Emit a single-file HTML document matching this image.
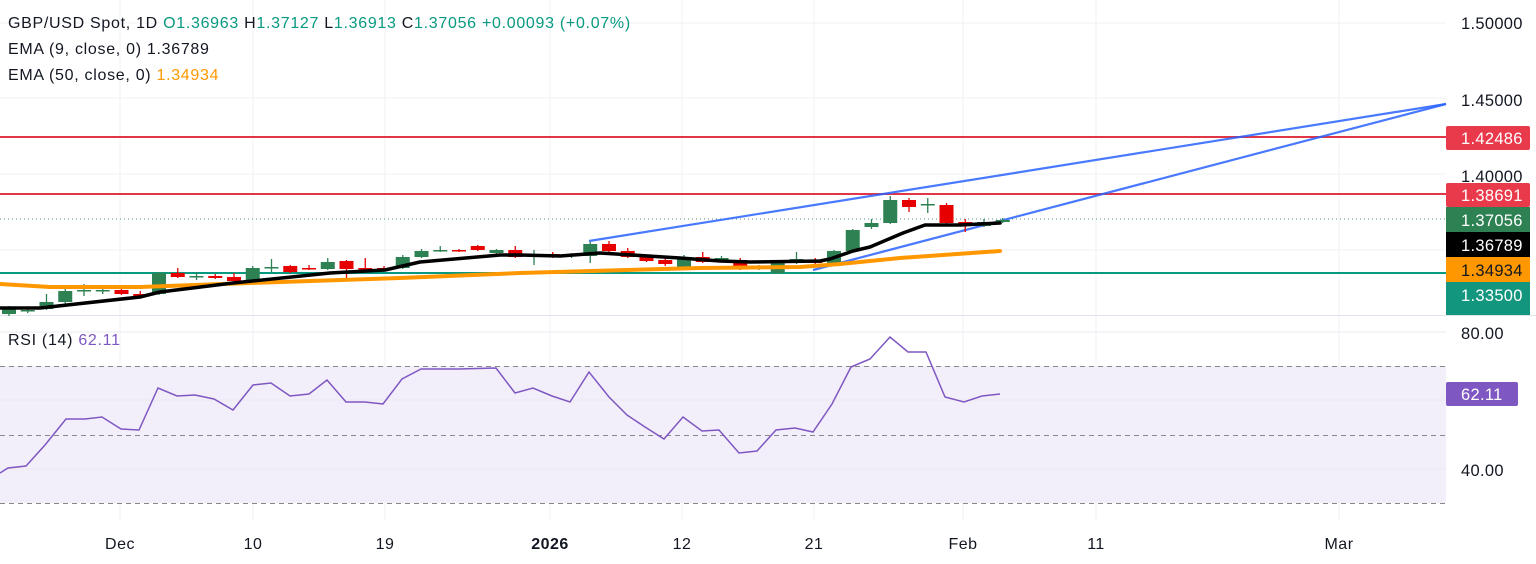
<!DOCTYPE html>
<html><head><meta charset="utf-8"><style>
html,body{margin:0;padding:0;background:#fff;width:1536px;height:564px;overflow:hidden;font-family:"Liberation Sans",sans-serif}
svg{display:block}
</style></head><body>
<svg id="c" width="1536" height="564" xmlns="http://www.w3.org/2000/svg" font-family="Liberation Sans, sans-serif">
<rect width="1536" height="564" fill="#fff"/>
<g stroke="#f0f2f5" stroke-width="1">
<line x1="120" y1="0" x2="120" y2="520"/><line x1="253" y1="0" x2="253" y2="520"/><line x1="385" y1="0" x2="385" y2="520"/><line x1="550" y1="0" x2="550" y2="520"/><line x1="682" y1="0" x2="682" y2="520"/><line x1="814" y1="0" x2="814" y2="520"/><line x1="963" y1="0" x2="963" y2="520"/><line x1="1096" y1="0" x2="1096" y2="520"/><line x1="1339" y1="0" x2="1339" y2="520"/>
<line x1="0" y1="23" x2="1446" y2="23"/><line x1="0" y1="98" x2="1446" y2="98"/><line x1="0" y1="174" x2="1446" y2="174"/><line x1="0" y1="250" x2="1446" y2="250"/>
</g>
<line x1="0" y1="315.5" x2="1536" y2="315.5" stroke="#e0e3eb"/>
<rect x="0" y="366" width="1446" height="137" fill="#f3effa"/>
<g stroke="#ebe8f0"><line x1="0" y1="332" x2="1446" y2="332"/><line x1="0" y1="400" x2="1446" y2="400"/><line x1="0" y1="469" x2="1446" y2="469"/></g>
<g stroke="#888" stroke-dasharray="5,4"><line x1="0" y1="366.5" x2="1446" y2="366.5"/><line x1="0" y1="435.5" x2="1446" y2="435.5"/><line x1="0" y1="503.5" x2="1446" y2="503.5"/></g>
<polyline fill="none" stroke="#7e57c2" stroke-width="1.5" points="0,473 8,468 26,466 45,445 66,419 85,419 102,417 121,429 139,430 158,388 177,396 195,395 214,399 233,410 253,385 271,383 290,396 309,394 327,380 346,402 365,402 383,404 402,379 421,369 459,369 496,368 515,393 533,388 552,396 570,402 589,372 609,397 627,415 645,427 664,439 683,417 702,431 719,430 739,453 757,451 776,430 795,428 813,432 832,404 851,367 870,359 890,337 908,352 926,352 945,397 964,402 982,396 1000,394"/>
<line x1="0" y1="137" x2="1446" y2="137" stroke="#e03645" stroke-width="2"/>
<line x1="0" y1="194" x2="1446" y2="194" stroke="#e03645" stroke-width="2"/>
<line x1="0" y1="219" x2="1446" y2="219" stroke="#4f8f7f" stroke-dasharray="1,3"/>
<line x1="0" y1="273" x2="1446" y2="273" stroke="#089981" stroke-width="2"/>
<line x1="589" y1="241" x2="1446" y2="104" stroke="#2962ff" stroke-width="2.2" opacity=".85"/>
<line x1="813" y1="270" x2="1446" y2="104" stroke="#2962ff" stroke-width="2.2" opacity=".85"/>
<g id="candles"></g>
<polyline fill="none" stroke="#ff9800" stroke-width="4" stroke-linecap="round" points="0,284 50,287 140,287 250,283 400,278 520,273 700,268 800,267 840,264 900,258 1000,251"/>
<polyline fill="none" stroke="#000" stroke-width="3.5" stroke-linejoin="round" stroke-linecap="round" points="0,308 40,308 140,297 160,292 233,283 330,273 385,270 420,262 500,255 520,255 560,256 600,253 680,258 720,261 750,262 820,261 830,259 853,251 870,247 903,233 925,225 960,225 1000,223"/>
<g font-size="16" fill="#131722" letter-spacing="0.7">
<text x="8" y="28">GBP/USD Spot, 1D <tspan fill="#089981">O</tspan><tspan fill="#089981">1.36963</tspan> H<tspan fill="#089981">1.37127</tspan> L<tspan fill="#089981">1.36913</tspan> C<tspan fill="#089981">1.37056</tspan> <tspan fill="#089981">+0.00093 (+0.07%)</tspan></text>
<text x="8" y="54">EMA (9, close, 0)  <tspan>1.36789</tspan></text>
<text x="8" y="80">EMA (50, close, 0)  <tspan fill="#ff9800">1.34934</tspan></text>
<text x="8" y="345">RSI (14)  <tspan fill="#7e57c2">62.11</tspan></text>
</g>
<g font-size="16.5" fill="#131722" letter-spacing="0.3">
<text x="1461" y="29">1.50000</text><text x="1461" y="106">1.45000</text><text x="1461" y="182">1.40000</text>
<text x="1461" y="339">80.00</text><text x="1461" y="476">40.00</text>
</g>
<rect x="1446" y="126" width="84" height="24" rx="2" fill="#e83a4b"/>
<rect x="1446" y="183" width="84" height="24" rx="2" fill="#e83a4b"/>
<rect x="1446" y="207" width="84" height="25" fill="#2e8152"/>
<rect x="1446" y="232" width="84" height="25" fill="#000"/>
<rect x="1446" y="257" width="84" height="25" fill="#ff9800"/>
<rect x="1446" y="282" width="84" height="33" fill="#13967e"/>
<rect x="1446" y="382" width="72" height="24" rx="2" fill="#7e57c2"/>
<g font-size="16.5" fill="#fff" letter-spacing="0.3">
<text x="1461" y="144">1.42486</text><text x="1461" y="201">1.38691</text><text x="1461" y="226">1.37056</text><text x="1461" y="251">1.36789</text><text x="1461" y="276" fill="#131722">1.34934</text><text x="1461" y="301">1.33500</text><text x="1461" y="400">62.11</text>
</g>
<line x1="1446" y1="315.5" x2="1536" y2="315.5" stroke="#e0e3eb"/>
<g font-size="16" fill="#131722" text-anchor="middle" letter-spacing="0.5">
<text x="120" y="549">Dec</text><text x="253" y="549">10</text><text x="385" y="549">19</text><text x="550" y="549" font-weight="bold">2026</text><text x="682" y="549">12</text><text x="814" y="549">21</text><text x="963" y="549">Feb</text><text x="1096" y="549">11</text><text x="1339" y="549">Mar</text>
</g>
</svg>
<script>
var d=[['g',306,309,314,316],['g',307,310,311,313],['g',294,302,309,310],['g',288,291,302,306],['g',284,290,291,296],['g',286,290,291,294],['r',285,290,294,295],['r',291,294,296,297],['g',272,273,294,295],['r',268,273,277,278],['g',272,276,277,280],['r',274,276,278,279],['r',273,277,281,282],['g',266,268,282,283],['g',259,267,268,272],['r',265,266,272,273],['r',265,268,269,270],['g',258,262,269,270],['r',260,261,269,279],['r',258,268,269,273],['r',266,268,269,271],['g',255,257,268,269],['g',249,251,257,258],['g',246,250,251,252],['r',249,250,251,252],['r',245,246,250,251],['g',249,250,253,254],['r',246,250,257,258],['g',250,254,255,265],['r',252,254,257,258],['g',253,255,256,258],['g',242,244,256,263],['r',241,244,251,252],['r',248,251,257,258],['r',255,257,261,262],['r',257,260,264,266],['g',255,257,267,268],['r',252,257,262,263],['g',256,258,259,261],['r',258,260,269,270],['g',265,267,268,270],['g',261,262,273,274],['g',252,259,260,264],['r',258,260,263,265],['g',250,251,263,264],['g',229,230,251,252],['g',219,223,227,229],['g',196,200,223,224],['r',198,200,207,212],['g',198,204,205,213],['r',203,205,223,224],['r',219,222,226,232],['g',219,222,226,227],['g',218,220,222,223]];
var g=document.getElementById('candles'),s='';
for(var i=0;i<d.length;i++){var c=d[i],x=9+i*18.75,col=c[0]=='g'?'#2e8152':'#e60000';var h=Math.max(c[3]-c[2],1.5);
s+='<line x1="'+x+'" y1="'+c[1]+'" x2="'+x+'" y2="'+c[4]+'" stroke="'+col+'" stroke-width="1.3"/>';
s+='<rect x="'+(x-7)+'" y="'+c[2]+'" width="14" height="'+h+'" fill="'+col+'"/>';}
g.innerHTML=s;
</script>
</body></html>
